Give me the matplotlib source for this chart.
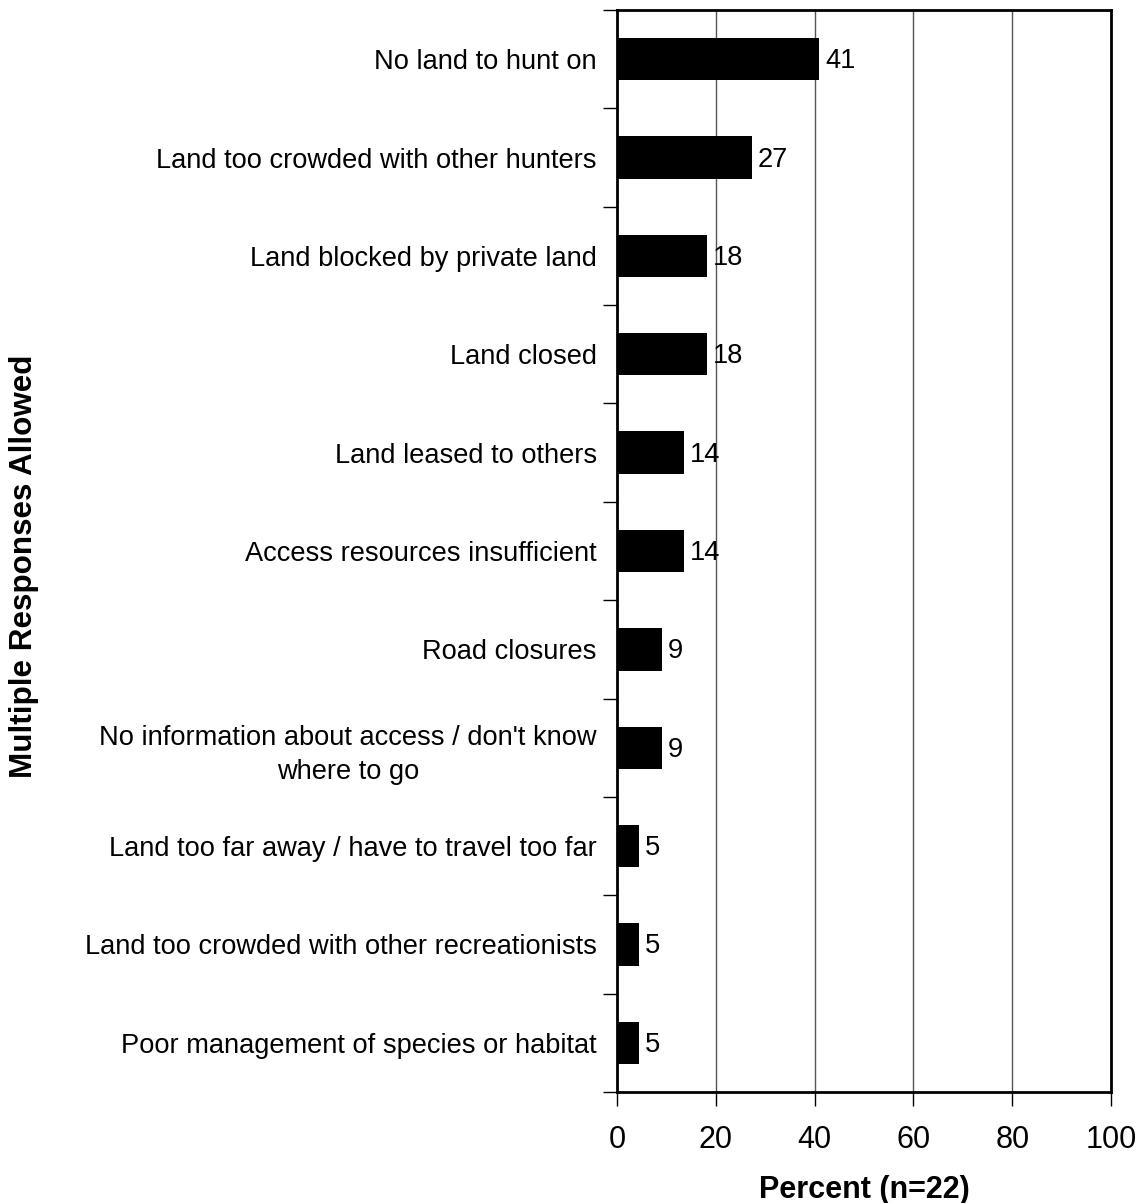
import matplotlib
matplotlib.use("Agg")
import matplotlib.pyplot as plt
import numpy as np

plt.rcParams['font.family'] = ['Liberation Sans', 'DejaVu Sans']

categories = [
    "No land to hunt on",
    "Land too crowded with other hunters",
    "Land blocked by private land",
    "Land closed",
    "Land leased to others",
    "Access resources insufficient",
    "Road closures",
    "No information about access / don't know\nwhere to go",
    "Land too far away / have to travel too far",
    "Land too crowded with other recreationists",
    "Poor management of species or habitat",
]
values = [40.9, 27.3, 18.2, 18.2, 13.6, 13.6, 9.1, 9.1, 4.5, 4.5, 4.5]
value_labels = ["41", "27", "18", "18", "14", "14", "9", "9", "5", "5", "5"]
xticks = [0, 20, 40, 60, 80, 100]

fig = plt.figure(figsize=(11.39, 12.03), dpi=100)
ax = fig.add_axes([617/1139, 1-1092/1203, (1111-617)/1139, (1092-10)/1203])

n = len(categories)
y = np.arange(n)
ax.barh(y, values, height=0.43, color='black', zorder=3)
for yi, v, lab in zip(y, values, value_labels):
    ax.text(v + 1.2, yi + 0.02, lab, va='center', ha='left', fontsize=19.6, zorder=4)

ax.set_ylim(n - 0.5, -0.5)
ax.set_xlim(0, 100)
ax.set_xticks(xticks)
ax.set_xticklabels([str(t) for t in xticks], fontsize=22)
ax.tick_params(axis='x', direction='out', length=10, width=1, pad=14, colors='black')

ax.set_yticks(y)
ax.set_yticklabels(categories, fontsize=19.6, multialignment='center', linespacing=1.4)
ax.tick_params(axis='y', which='major', length=0, pad=14.5)
ax.set_yticks(np.arange(-0.5, n + 0.5, 1), minor=True)
ax.tick_params(axis='y', which='minor', direction='out', length=10, width=1)

ax.xaxis.grid(True, color='#555555', linewidth=1, zorder=0)
for s in ax.spines.values():
    s.set_linewidth(2)
    s.set_color('black')

ax.set_xlabel("Percent (n=22)", fontsize=22, fontweight='bold', labelpad=14)
fig.text(24/1139, 1-566/1203, "Multiple Responses Allowed", rotation=90,
         fontsize=22.6, fontweight='bold', ha='center', va='center')

fig.savefig("out.png", dpi=100)
